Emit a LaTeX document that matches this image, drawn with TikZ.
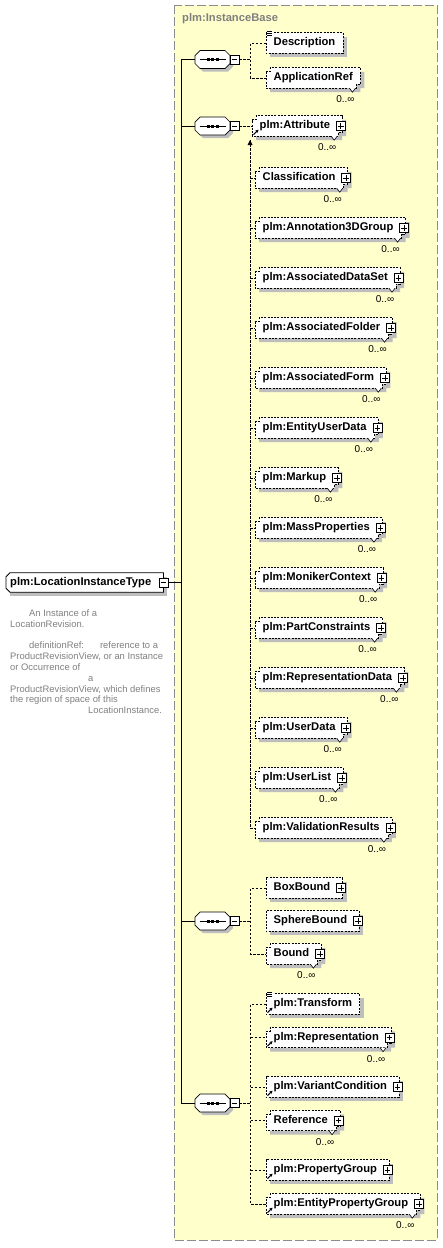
\documentclass[tikz,border=0pt]{standalone}
\usepackage{fontspec}
\setmainfont{Liberation Sans}
\usetikzlibrary{positioning,arrows.meta}

\definecolor{basefill}{HTML}{FFFFCC}
\definecolor{framegray}{HTML}{8C8C8C}
\definecolor{shadowgray}{HTML}{BEBEBE}
\definecolor{notegray}{HTML}{7F7F7F}

\pgfdeclarelayer{bottom}
\pgfdeclarelayer{back}
\pgfsetlayers{bottom,back,main}

\newcommand\elfont{\fontsize{11.2}{13}\selectfont\bfseries}
\newcommand\notefont{\fontsize{9.4}{10.8}\selectfont}
\newcommand\occfont{\fontsize{10}{12}\selectfont}

% outline of a box with a second copy behind it (#2,#3 = offset)
\newcommand\stackpath[3]{([shift={(#2,4+#3)}]#1.north west) -- ([shift={(4+#2,4+#3)}]#1.north west) -- ([shift={(4+#2,#3)}]#1.north west) -- ([shift={(#2,#3)}]#1.north east) -- ([shift={(#2,-4+#3)}]#1.south east) -- ([shift={(-4+#2,-4+#3)}]#1.south east) -- ([shift={(-4+#2,#3)}]#1.south east) -- ([shift={(#2,#3)}]#1.south west) -- cycle}
% sequence compositor outline
\newcommand\octagon[2]{(-17.5+#1,-4+#2) -- (-12.5+#1,-9+#2) -- (12.5+#1,-9+#2) -- (17.5+#1,-4+#2) -- (17.5+#1,4+#2) -- (12.5+#1,9+#2) -- (-12.5+#1,9+#2) -- (-17.5+#1,4+#2) -- cycle}

\newcommand\single[1]{%
  \begin{pgfonlayer}{back}
    \fill[shadowgray] ([shift={(4,4)}]#1.north west) rectangle ([shift={(4,4)}]#1.south east);
    \draw[boxline] (#1.north west) rectangle (#1.south east);
  \end{pgfonlayer}}
\newcommand\multi[1]{%
  \begin{pgfonlayer}{back}
    \fill[shadowgray] \stackpath{#1}{4}{4};
    \draw[boxline] \stackpath{#1}{0}{0};
  \end{pgfonlayer}
  \filldraw[fill=white, line width=0.6pt] ([xshift=-11pt]#1.south east) -- ++(3,4) -- ++(3,-4);
  \node[occurs] at ([shift={(-15,11)}]#1.south east) {0..∞};}
\newcommand\plus[1]{%
  \node[iconbox] (#1-plus) at ([xshift=-1.5pt]#1.east) {};
  \draw[line width=0.6pt] ([xshift=2pt]#1-plus.west) -- ([xshift=-2pt]#1-plus.east) ([yshift=2pt]#1-plus.south) -- ([yshift=-2pt]#1-plus.north);}
\newcommand\refmark[1]{\draw[line width=1.1pt, -{Stealth[length=3pt, width=3.4pt]}] ([shift={(1.5,-1.5)}]#1.south west) -- ++(5,-5);}
\newcommand\simple[1]{%
  \fill[white] ([shift={(0.5,-2)}]#1.north west) rectangle ([shift={(6.5,4)}]#1.north west);
  \foreach \dy in {-1.5,0.5,2.5} \draw[line width=0.6pt] ([shift={(1,\dy)}]#1.north west) -- ++(5,0);}

\tikzset{
  elem/.style={anchor=west, font=\elfont, inner xsep=7.5pt, inner ysep=0pt, minimum height=20pt, text height=8pt, text depth=2.5pt},
  elemplus/.style={elem, execute at end node={\hspace{4.5pt}}},
  rootbox/.style={elem, inner xsep=4pt, minimum height=19pt, execute at end node={\hspace{8pt}}},
  boxline/.style={draw=black, fill=white, line width=0.7pt, dash pattern=on 2pt off 1.3pt},
  link/.style={draw=black, line width=0.7pt, dash pattern=on 2.5pt off 1.5pt},
  tree/.style={draw=black, line width=0.8pt},
  iconbox/.style={draw=black, fill=white, line width=0.6pt, minimum size=9pt, inner sep=0pt},
  occurs/.style={font=\occfont, inner sep=0pt},
  framebox/.style={fill=basefill, draw=framegray, line width=1pt, dash pattern=on 9pt off 3pt},
  seqgroup/.pic={
    \fill[shadowgray] \octagon{3}{3};
    \filldraw[fill=white, line width=0.7pt] \octagon{0}{0};
    \draw[line width=0.9pt] (-13,0) -- (13,0);
    \foreach \dx in {-4.5,0,4.5} \fill (\dx-1.5,-1.5) rectangle (\dx+1.5,1.5);
    \node[iconbox] (-m) at (22,0) {};
    \draw[line width=0.6pt] (19.5,0) -- (24.5,0);
    \coordinate (-in) at (-17.5,0);
  }
}

\begin{document}
\begin{tikzpicture}[x=1pt, y=-1pt]
  \useasboundingbox (0,0) rectangle (443,1248);
  \begin{pgfonlayer}{bottom}
    \draw[framebox] (174,5) rectangle (437,1240);
  \end{pgfonlayer}
  \node[font=\elfont, text=notegray, anchor=west, inner sep=0pt] (basetitle) at (182,19) {plm:InstanceBase};

  % root type
  \node[rootbox] (root) at (6,582.5) {plm:LocationInstanceType};
  \begin{pgfonlayer}{back}
    \fill[shadowgray] ([shift={(4,4)}]root.north west) rectangle ([shift={(4,4)}]root.south east);
    \filldraw[fill=white, line width=0.8pt] ([xshift=4pt]root.north west) -- (root.north east) -- (root.south east) -- ([xshift=4pt]root.south west) -- ([yshift=4pt]root.south west) -- ([yshift=-4pt]root.north west) -- cycle;
  \end{pgfonlayer}
  \node[iconbox] (root-m) at (root.east) {};
  \draw[line width=0.6pt] ([xshift=2pt]root-m.west) -- ([xshift=-2pt]root-m.east);
  \node[font=\notefont, text=notegray, align=left, anchor=north west, inner sep=0pt] (rootnote) at (10,609.5) {%
    \hspace*{19pt}An Instance of a\\
    LocationRevision.\\[10.8pt]
    \hspace*{19pt}definitionRef:\hspace{16pt}reference to a\\
    ProductRevisionView, or an Instance\\
    or Occurrence of\\
    \hspace*{78pt}a\\
    ProductRevisionView, which defines\\
    the region of space of this\\
    \hspace*{78pt}LocationInstance.};

  % compositors
  \pic (s1) at (212.5,59.5) {seqgroup};
  \pic (s2) at (212.5,126) {seqgroup};
  \pic (s3) at (212.5,921) {seqgroup};
  \pic (s4) at (212.5,1103) {seqgroup};
  \coordinate (trunk) at (181,0);
  \draw[tree] (root-m.east) -- (root-m.east -| trunk);
  \draw[tree] (s1-in) -- (s1-in -| trunk) -- (s4-in -| trunk) -- (s4-in);
  \draw[tree] (s2-in) -- (s2-in -| trunk) (s3-in) -- (s3-in -| trunk);

  % first sequence
  \node[elem] (desc) at (266,43) {Description};
  \single{desc} \simple{desc}
  \node[elem] (appref) at (266,78) {ApplicationRef};
  \multi{appref}
  \coordinate (b1) at (250.5,59.5);
  \draw[link] (s1-m.east) -- (b1);
  \draw[link] (desc.west) -- (desc.west -| b1) -- (appref.west -| b1) -- (appref.west);

  % second sequence
  \node[elemplus] (attr) at (252,126) {plm:Attribute};
  \multi{attr} \plus{attr} \refmark{attr}
  \draw[link] (s2-m.east) -- (attr.west);
  \coordinate (b2) at (250,140);
  \foreach \nm/\txt [count=\k] in {classif/Classification, annot/plm:Annotation3DGroup,
      dataset/plm:AssociatedDataSet, folder/plm:AssociatedFolder, form/plm:AssociatedForm,
      userdata/plm:EntityUserData, markup/plm:Markup, mass/plm:MassProperties,
      moniker/plm:MonikerContext, constr/plm:PartConstraints, repdata/plm:RepresentationData,
      udata/plm:UserData, ulist/plm:UserList, valid/plm:ValidationResults}{
    \node[elemplus] (\nm) at (255,{128+50*\k}) {\txt};
    \multi{\nm} \plus{\nm}
    \draw[link] (\nm.west -| b2) -- (\nm.west);
  }
  \draw[link] (b2) -- (valid.west -| b2);
  \fill (b2) -- ++(-2.5,5) -- ++(5,0) -- cycle;

  % third sequence
  \node[elemplus] (boxb) at (266,888) {BoxBound};
  \single{boxb} \plus{boxb}
  \node[elemplus] (sphb) at (266,921) {SphereBound};
  \single{sphb} \plus{sphb}
  \node[elemplus] (bound) at (266,954) {Bound};
  \multi{bound} \plus{bound}
  \coordinate (b3) at (250.5,921);
  \draw[link] (s3-m.east) -- (b3);
  \draw[link] (boxb.west) -- (boxb.west -| b3) -- (bound.west -| b3) -- (bound.west);

  % fourth sequence
  \node[elem] (xform) at (266,1004) {plm:Transform};
  \single{xform} \simple{xform} \refmark{xform}
  \node[elemplus] (repr) at (266,1037.5) {plm:Representation};
  \multi{repr} \plus{repr} \refmark{repr}
  \node[elemplus] (varc) at (266,1087) {plm:VariantCondition};
  \single{varc} \plus{varc} \refmark{varc}
  \node[elemplus] (refr) at (266,1120.5) {Reference};
  \multi{refr} \plus{refr}
  \node[elemplus] (pgrp) at (266,1170) {plm:PropertyGroup};
  \single{pgrp} \plus{pgrp} \refmark{pgrp}
  \node[elemplus] (epgrp) at (266,1204) {plm:EntityPropertyGroup};
  \multi{epgrp} \plus{epgrp} \refmark{epgrp}
  \coordinate (b4) at (250.5,1103);
  \draw[link] (s4-m.east) -- (b4);
  \draw[link] (xform.west) -- (xform.west -| b4) -- (epgrp.west -| b4) -- (epgrp.west);
  \foreach \nm in {repr, varc, refr, pgrp} \draw[link] (\nm.west -| b4) -- (\nm.west);
\end{tikzpicture}
\end{document}
